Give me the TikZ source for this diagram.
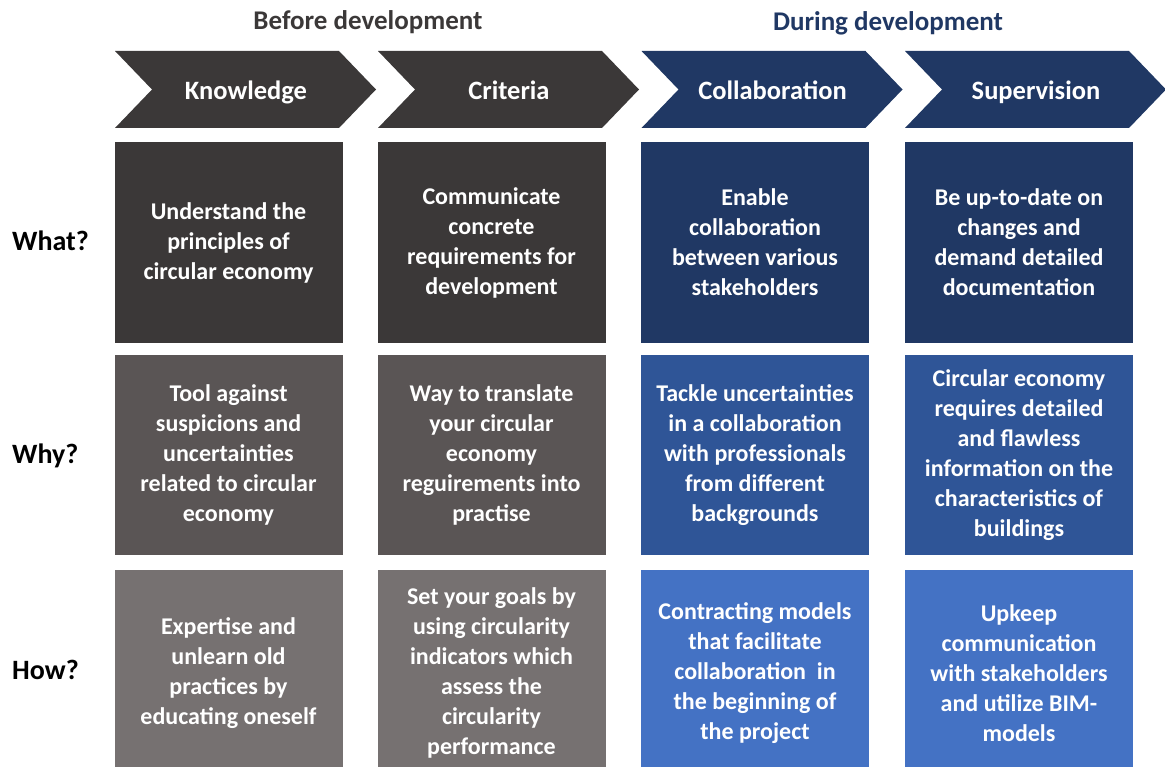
\documentclass[tikz,border=0pt]{standalone}
\usepackage{fontspec}
\setmainfont{Carlito}
\definecolor{darkgray}{HTML}{3B3838}
\definecolor{midgray}{HTML}{5A5555}
\definecolor{lightgray}{HTML}{767171}
\definecolor{navy}{HTML}{203864}
\definecolor{midblue}{HTML}{2F5597}
\definecolor{lightblue}{HTML}{4472C4}
\begin{document}
\begin{tikzpicture}[x=1pt,y=-1pt,
  phase/.style={font=\bfseries\fontsize{27}{32}\selectfont},
  chevtext/.style={font=\bfseries\fontsize{26.5}{31}\selectfont,text=white,inner sep=0pt,anchor=base},
  rowlabel/.style={font=\bfseries\fontsize{28}{33}\selectfont,text=black,anchor=west,inner sep=0pt},
  cell/.style={rectangle,minimum width=228pt,inner sep=0pt,outer sep=0pt,anchor=north west,
    text=white,align=center,font=\bfseries\fontsize{24}{30}\selectfont},
  celltext/.style={text=white,align=center,inner sep=0pt,font=\bfseries\fontsize{24}{30}\selectfont}]
\useasboundingbox (0,0) rectangle (1165,767);

% phase headings
\node[phase,text=darkgray] (before) at (368,22) {Before development};
\node[phase,text=navy] (during) at (888,23) {During development};

% chevrons: #1 left x, #2 colour, #3 name, #4 label
\newcommand\chevron[4]{%
  \fill[#2] (#1,51) -- (#1+224,51) -- (#1+261,89.5) -- (#1+224,128) -- (#1,128) -- (#1+37,89.5) -- cycle;
  \node[chevtext] (#3) at (#1+131,100) {#4};}
\chevron{115}{darkgray}{knowledge}{Knowledge}
\chevron{378}{darkgray}{criteria}{Criteria}
\chevron{641.5}{navy}{collab}{Collaboration}
\chevron{905}{navy}{superv}{Supervision}

% row labels
\node[rowlabel] (what) at (12,241) {What?};
\node[rowlabel] (why) at (12,456) {Why?};
\node[rowlabel] (how) at (12,670) {How?};

% row 1: what
\node[cell,fill=darkgray,minimum height=201pt] (a1) at (114.5,142) {Understand the\\principles of\\circular economy};
\node[cell,fill=darkgray,minimum height=201pt] (a2) at (377.5,142) {Communicate\\concrete\\requirements for\\development};
\node[cell,fill=navy,minimum height=201pt] (a3) at (641,142) {Enable\\collaboration\\between various\\stakeholders};
\node[cell,fill=navy,minimum height=201pt] (a4) at (905,142) {Be up-to-date on\\changes and\\demand detailed\\documentation};

% row 2: why
\node[cell,fill=midgray,minimum height=200pt] (b1) at (114.5,355) {Tool against\\suspicions and\\uncertainties\\related to circular\\economy};
\node[cell,fill=midgray,minimum height=200pt] (b2) at (377.5,355) {Way to translate\\your circular\\economy\\reguirements into\\practise};
\node[cell,fill=midblue,minimum height=200pt] (b3) at (641,355) {Tackle uncertainties\\in a collaboration\\with professionals\\from different\\backgrounds};
\node[cell,fill=midblue,minimum height=200pt] (b4) at (905,355) {Circular economy\\requires detailed\\and flawless\\information on the\\characteristics of\\buildings};

% row 3: how (boxes run off the lower edge)
\node[cell,fill=lightgray,minimum height=197pt] (c1) at (114.5,570) {};
\node[cell,fill=lightgray,minimum height=197pt] (c2) at (377.5,570) {};
\node[cell,fill=lightblue,minimum height=197pt] (c3) at (641,570) {};
\node[cell,fill=lightblue,minimum height=197pt] (c4) at (905,570) {};
\node[celltext] (c1t) at (228.5,673) {Expertise and\\unlearn old\\practices by\\educating oneself};
\node[celltext] (c2t) at (491.5,673) {Set your goals by\\using circularity\\indicators which\\assess the\\circularity\\performance};
\node[celltext] (c3t) at (755,673) {Contracting models\\that facilitate\\collaboration\ \ in\\the beginning of\\the project};
\node[celltext] (c4t) at (1019,673) {Upkeep\\communication\\with stakeholders\\and utilize BIM-\\models};
\end{tikzpicture}
\end{document}
